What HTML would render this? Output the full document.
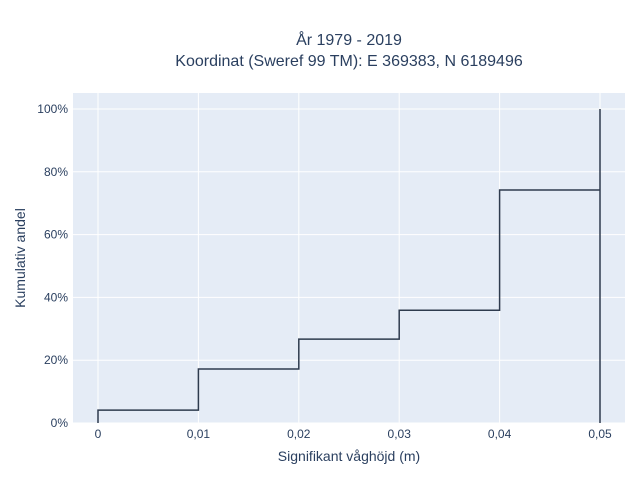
<!DOCTYPE html>
<html><head><meta charset="utf-8"><style>
body{margin:0;background:#fff;font-family:"Liberation Sans",sans-serif;}
svg text{font-family:"Liberation Sans",sans-serif;fill:#2a3f5f;}
</style></head><body>
<svg width="640" height="480">
<text x="349" y="45" font-size="16" text-anchor="middle">År 1979 - 2019</text>
<text x="349" y="66" font-size="16" text-anchor="middle">Koordinat (Sweref 99 TM): E 369383, N 6189496</text>
<rect x="73" y="93" width="552" height="330" fill="#e5ecf6"/>
<g id="grid"></g>
<g id="ticks"></g>
<path id="line" fill="none" stroke="#2e3b4e" stroke-width="1.5"/>
<text x="349" y="461" font-size="14" text-anchor="middle">Signifikant våghöjd (m)</text>
<text transform="translate(25,258) rotate(-90)" font-size="14" text-anchor="middle">Kumulativ andel</text>
</svg>
<script>
const xValues=[0,0.01,0.02,0.03,0.04,0.05];
const yValues=[4.1,17.2,26.7,35.9,74.2,100];
const xTicks=[0,0.01,0.02,0.03,0.04,0.05];
const xTickLabels=["0","0,01","0,02","0,03","0,04","0,05"];
const yTicks=[0,20,40,60,80,100];
const yTickLabels=["0%","20%","40%","60%","80%","100%"];
const sx=v=>98+v/0.05*502;
const sy=v=>423-v/100*314;
const ns="http://www.w3.org/2000/svg";
const grid=document.getElementById('grid'),ticks=document.getElementById('ticks');
xTicks.forEach((t,i)=>{
 const l=document.createElementNS(ns,'line');
 
 
 l.setAttribute('x1',sx(t));l.setAttribute('x2',sx(t));l.setAttribute('y1',93);l.setAttribute('y2',423);
 l.setAttribute('stroke','#fff');l.setAttribute('stroke-width','1');grid.appendChild(l);
 const tx=document.createElementNS(ns,'text');
 
 
 tx.setAttribute('x',sx(t));tx.setAttribute('y',438);tx.setAttribute('font-size','12');tx.setAttribute('text-anchor','middle');
 tx.textContent=xTickLabels[i];ticks.appendChild(tx);
});
yTicks.forEach((t,i)=>{
 const l=document.createElementNS(ns,'line');
 
 
 l.setAttribute('x1',73);l.setAttribute('x2',625);l.setAttribute('y1',sy(t));l.setAttribute('y2',sy(t));
 l.setAttribute('stroke','#fff');l.setAttribute('stroke-width','1');grid.appendChild(l);
 const tx=document.createElementNS(ns,'text');
 
 
 tx.setAttribute('x',68);tx.setAttribute('y',sy(t)+4);tx.setAttribute('font-size','12');tx.setAttribute('text-anchor','end');
 tx.textContent=yTickLabels[i];ticks.appendChild(tx);
});
let d='M'+sx(xValues[0])+','+sy(0);
xValues.forEach((x,i)=>{
 if(i>0)d+=' L'+sx(x)+','+sy(yValues[i-1]);
 d+=' L'+sx(x)+','+sy(yValues[i]);
});
d+=' M'+sx(xValues[xValues.length-1])+','+sy(yValues[yValues.length-2])+' L'+sx(xValues[xValues.length-1])+','+sy(0);
document.getElementById('line').setAttribute('d',d);
</script>
</body></html>
